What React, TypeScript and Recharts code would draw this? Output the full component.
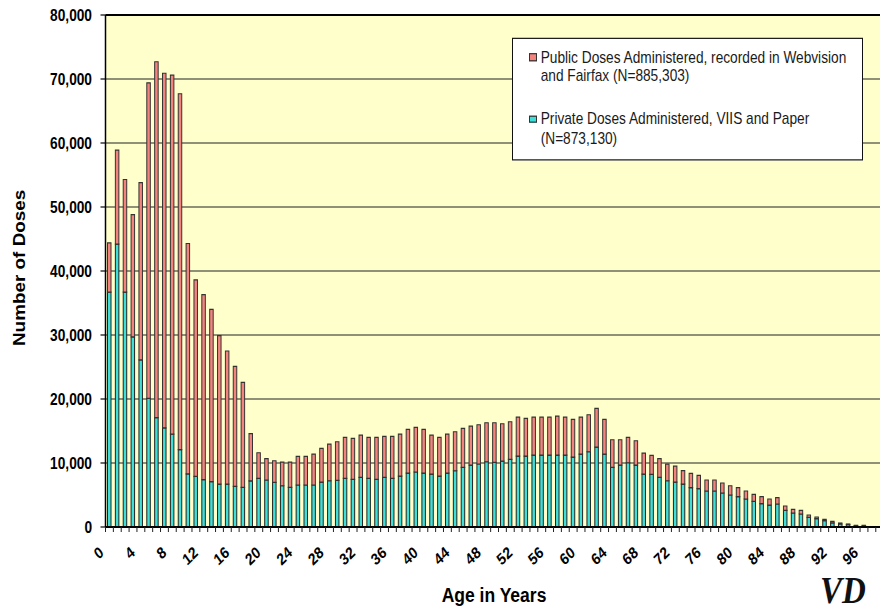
import React from 'react';
import { BarChart, Bar, XAxis, YAxis, CartesianGrid, Legend, ReferenceLine } from 'recharts';

// Age categories (years)
const ages = [
  0, 1, 2, 3, 4, 5, 6, 7, 8, 9,
  10, 11, 12, 13, 14, 15, 16, 17, 18, 19,
  20, 21, 22, 23, 24, 25, 26, 27, 28, 29,
  30, 31, 32, 33, 34, 35, 36, 37, 38, 39,
  40, 41, 42, 43, 44, 45, 46, 47, 48, 49,
  50, 51, 52, 53, 54, 55, 56, 57, 58, 59,
  60, 61, 62, 63, 64, 65, 66, 67, 68, 69,
  70, 71, 72, 73, 74, 75, 76, 77, 78, 79,
  80, 81, 82, 83, 84, 85, 86, 87, 88, 89,
  90, 91, 92, 93, 94, 95, 96, 97, 98, 99,
];

// Private doses administered, VIIS and Paper (bottom segment)
const privateDoses = [
  36700, 44200, 36700, 29700, 26100, 20100, 17100, 15500, 14500, 12100,
  8300, 7900, 7400, 7100, 6700, 6700, 6350, 6200, 7200, 7600,
  7340, 6970, 6450, 6190, 6560, 6560, 6560, 7020, 7230, 7290,
  7600, 7440, 7750, 7600, 7440, 7750, 7600, 7960, 8430, 8590,
  8430, 8270, 7960, 8430, 8790, 9310, 9680, 9840, 10200, 10100,
  10300, 10560, 11080, 11080, 11240, 11240, 11240, 11240, 11240, 10930,
  11400, 11760, 12490, 11400, 9310, 9680, 10040, 9680, 8270, 8220,
  7750, 7230, 7000, 6710, 6140, 5990, 5620, 5620, 5310, 5000,
  4740, 4370, 4010, 3640, 3430, 3590, 2600, 2190, 2030, 1510,
  1300, 990, 630, 470, 370, 210, 160, 0, 0, 0,
];

// Public doses administered, recorded in Webvision and Fairfax (top segment)
const publicDoses = [
  7700, 14700, 17600, 19100, 27700, 49300, 55600, 55400, 56100, 55600,
  36000, 30700, 28900, 26900, 23200, 20800, 18750, 16400, 7400, 4000,
  3330, 3380, 3700, 3960, 4470, 4470, 4840, 5260, 5730, 6030,
  6400, 6400, 6610, 6400, 6560, 6400, 6550, 6560, 6820, 6970,
  6820, 6090, 6040, 6090, 6090, 6090, 6090, 6140, 6090, 6190,
  5830, 5880, 6090, 5880, 5930, 5930, 5930, 6090, 5930, 5880,
  5770, 5780, 6040, 5410, 4320, 3950, 3960, 3800, 3280, 2970,
  2920, 2600, 2500, 2090, 2240, 2080, 1720, 1720, 1560, 1450,
  1400, 1250, 1090, 1100, 940, 990, 680, 570, 570, 360,
  260, 210, 260, 150, 100, 50, 100, 0, 0, 0,
];

const yTicks = [0, 10000, 20000, 30000, 40000, 50000, 60000, 70000, 80000];
const xLabelAges = [0, 4, 8, 12, 16, 20, 24, 28, 32, 36, 40, 44, 48, 52, 56, 60, 64, 68, 72, 76, 80, 84, 88, 92, 96];

const data = ages.map((age, i) => ({ age, priv: privateDoses[i], pub: publicDoses[i] }));

// Layout (base coordinates; the whole chart is stretched vertically like the source image)
const SY = 1.18;
const W = 900;
const H = 612 / SY;
const PLOT_LEFT = 105.5;
const PLOT_TOP = 15 / SY;
const PLOT_BOTTOM = 527 / SY;
const BAND = 7.86;
const PLOT_RIGHT = PLOT_LEFT + BAND * ages.length;
const Y_AXIS_W = 60;
const X_AXIS_H = 40;
const FONT = '"Liberation Sans", Arial, sans-serif';

const PINK = '#F4837D';
const CYAN = '#3EDFD8';

// Tick marks on the category boundaries (Excel style) plus a rotated label every 4 years
const XTick = (props: any) => {
  const { x, y, payload } = props;
  const age = payload.value;
  const show = xLabelAges.includes(age);
  const ax = x - 8;
  const ay = y + 19.5;
  return (
    <g>
      <line x1={x - BAND / 2} x2={x - BAND / 2} y1={y} y2={y + 4.2} stroke="#222" strokeWidth={1} />
      {show && (
        <text
          x={ax}
          y={ay}
          transform={`rotate(-40 ${ax} ${ay})`}
          textAnchor="end"
          dy="0.35em"
          fontSize={13.7}
          fontWeight={700}
          fontFamily={FONT}
          fill="#000"
        >
          {age}
        </text>
      )}
    </g>
  );
};

const LegendBox = () => {
  const line: React.CSSProperties = { position: 'absolute', left: 27.7, whiteSpace: 'nowrap', lineHeight: '16.5px' };
  const sw = (color: string, top: number): React.CSSProperties => ({
    position: 'absolute', left: 16.3, top, width: 8, height: 6.8, boxSizing: 'border-box',
    border: '1px solid #333', background: color,
  });
  return (
    <div style={{
      position: 'relative', width: 351, height: 104, boxSizing: 'border-box', border: '1px solid #111',
      background: '#fff', fontFamily: FONT, fontSize: 13.7, color: '#1a1a1a',
    }}>
      <div style={sw(PINK, 12.1)} />
      <div style={{ ...line, top: 8.35 }}>Public Doses Administered, recorded in Webvision</div>
      <div style={{ ...line, top: 24.85 }}>and Fairfax (N=885,303)</div>
      <div style={sw(CYAN, 64.9)} />
      <div style={{ ...line, top: 60.85 }}>Private Doses Administered, VIIS and Paper</div>
      <div style={{ ...line, top: 77.35 }}>(N=873,130)</div>
    </div>
  );
};

export default function App() {
  return (
    <div style={{ position: 'absolute', left: 0, top: 0, width: 880, height: 612, overflow: 'hidden', background: '#fff', fontFamily: FONT }}>
      <div style={{ position: 'absolute', left: 0, top: 0, width: W, height: H, transform: `scaleY(${SY})`, transformOrigin: '0 0' }}>
        <BarChart
          width={W}
          height={H}
          data={data}
          margin={{ top: PLOT_TOP, left: PLOT_LEFT - Y_AXIS_W, right: W - PLOT_RIGHT, bottom: H - PLOT_BOTTOM - X_AXIS_H }}
        >
          <CartesianGrid vertical={false} stroke="#222" strokeWidth={1} fill="#FFFFCC" fillOpacity={1} />
          <XAxis
            dataKey="age"
            type="category"
            interval={0}
            height={X_AXIS_H}
            tickSize={0}
            tickMargin={0}
            tickLine={false}
            axisLine={{ stroke: '#000', strokeWidth: 1.5 }}
            tick={<XTick />}
          />
          <YAxis
            width={Y_AXIS_W}
            domain={[0, 80000]}
            ticks={yTicks}
            interval={0}
            tickSize={5}
            tickMargin={8.5}
            axisLine={{ stroke: '#000', strokeWidth: 1.5 }}
            tickLine={{ stroke: '#000', strokeWidth: 1 }}
            tick={{ fontSize: 13.7, fontWeight: 700, fill: '#000', fontFamily: FONT }}
            tickFormatter={(v: number) => v.toLocaleString('en-US')}
          />
          <ReferenceLine y={80000} stroke="#000" strokeWidth={1.5} />
          <Legend
            layout="horizontal"
            align="center"
            verticalAlign="middle"
            wrapperStyle={{ left: 512, top: 37.3 / SY, width: 351, height: 104 }}
            content={() => <LegendBox />}
          />
          <Bar dataKey="priv" stackId="a" fill={CYAN} stroke="#222" strokeWidth={1} barSize={3.5} isAnimationActive={false} />
          <Bar dataKey="pub" stackId="a" fill={PINK} stroke="#333" strokeWidth={1} barSize={3.5} isAnimationActive={false} />
        </BarChart>
        <div style={{ position: 'absolute', left: 494, top: 496, transform: 'translateX(-50%)', fontSize: 17.5, fontWeight: 700, lineHeight: 1, whiteSpace: 'nowrap', color: '#000' }}>
          Age in Years
        </div>
        <div style={{ position: 'absolute', left: 19.5, top: 268 / SY, transform: 'translate(-50%, -50%) rotate(-90deg)', fontSize: 16, fontWeight: 700, lineHeight: 1, whiteSpace: 'nowrap', color: '#000' }}>
          Number of Doses
        </div>
        <div style={{ position: 'absolute', left: 820, top: 484, fontSize: 33, fontWeight: 700, fontStyle: 'italic', fontFamily: '"Liberation Serif", "DejaVu Serif", serif', lineHeight: 1, whiteSpace: 'nowrap', color: '#111' }}>
          VD
        </div>
      </div>
    </div>
  );
}
